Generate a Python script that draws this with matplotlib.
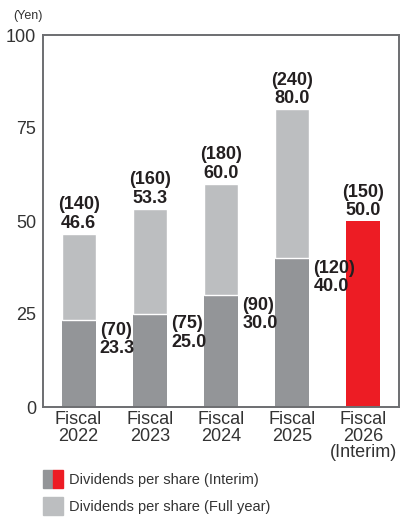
import matplotlib.pyplot as plt
from matplotlib.patches import Patch
from matplotlib.legend_handler import HandlerTuple

plt.rcParams['font.family'] = ['Liberation Sans Narrow', 'Liberation Sans', 'DejaVu Sans']

years = ['Fiscal\n2022', 'Fiscal\n2023', 'Fiscal\n2024', 'Fiscal\n2025', 'Fiscal\n2026\n(Interim)']
interim = [23.3, 25.0, 30.0, 40.0, 50.0]
full_year = [46.6, 53.3, 60.0, 80.0, None]
interim_pre_split = [70, 75, 90, 120, 150]
full_pre_split = [140, 160, 180, 240, None]

dark = '#939598'
light = '#bcbec0'
red = '#ed1c24'
txt = '#231f20'

fig = plt.figure(figsize=(4.06, 5.18), dpi=100)
ax = fig.add_axes([43 / 406, 1 - 407 / 518, 356 / 406, 372 / 518])

w = 0.48
x = list(range(len(years)))
lab = dict(fontsize=13, fontweight='bold', color=txt, linespacing=1.1)
for i in x:
    if full_year[i] is None:
        # current year: interim only, highlighted
        ax.bar(i, interim[i], w, color=red)
        ax.annotate(f'({interim_pre_split[i]})\n{interim[i]:.1f}', (i, interim[i]),
                    xytext=(0, 1.5), textcoords='offset points', ha='center', va='bottom', **lab)
        continue
    ax.bar(i, interim[i], w, color=dark)
    ax.bar(i, full_year[i] - interim[i], w, bottom=interim[i], color=light,
           edgecolor='white', linewidth=1.0)
    ax.annotate(f'({full_pre_split[i]})\n{full_year[i]:.1f}', (i, full_year[i]),
                xytext=(0, 1.5), textcoords='offset points', ha='center', va='bottom', **lab)
    ax.annotate(f'({interim_pre_split[i]})\n{interim[i]:.1f}', (i + w / 2, interim[i]),
                xytext=(3, -1), textcoords='offset points', ha='left', va='top', **lab)

ax.set_xlim(-0.5, len(years) - 0.5)
ax.set_ylim(0, 100)
ax.set_yticks([0, 25, 50, 75, 100])
ax.set_xticks(x)
ax.set_xticklabels(years, linespacing=0.95)
ax.tick_params(length=0, labelsize=13, labelcolor='#333333', pad=3)
ax.tick_params(axis='y', pad=5)
for s in ax.spines.values():
    s.set_color('#6d6e71')
    s.set_linewidth(1.4)

fig.text(13 / 406, 1 - 16 / 518, '(Yen)', fontsize=9, color='#333333', va='center')

h_interim = (Patch(color=dark), Patch(color=red))
h_full = Patch(color=light)
fig.legend([h_interim, h_full], ['Dividends per share (Interim)', 'Dividends per share (Full year)'],
           handler_map={tuple: HandlerTuple(ndivide=None, pad=0)},
           loc='upper left', bbox_to_anchor=(43 / 406, 1 - 470 / 518), frameon=False,
           fontsize=10.5, handlelength=1.37, handleheight=1.5, handletextpad=0.41,
           labelspacing=0.62, borderpad=0, borderaxespad=0, labelcolor='#333333')

fig.savefig('out.png', dpi=100)
